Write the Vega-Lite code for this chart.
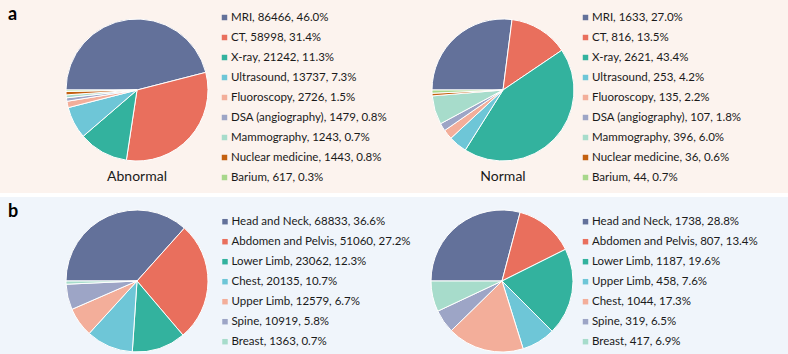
{
  "$schema": "https://vega.github.io/schema/vega-lite/v6.json",
  "background": "white",
  "padding": 0,
  "spacing": 4,
  "config": {"view": {"stroke": null}, "font": "Lato"},
  "datasets": {
    "modality": [
      {"status": "Abnormal", "category": "MRI", "count": 86466, "label": "MRI, 86466, 46.0%"},
      {"status": "Abnormal", "category": "CT", "count": 58998, "label": "CT, 58998, 31.4%"},
      {"status": "Abnormal", "category": "X-ray", "count": 21242, "label": "X-ray, 21242, 11.3%"},
      {"status": "Abnormal", "category": "Ultrasound", "count": 13737, "label": "Ultrasound, 13737, 7.3%"},
      {"status": "Abnormal", "category": "Fluoroscopy", "count": 2726, "label": "Fluoroscopy, 2726, 1.5%"},
      {"status": "Abnormal", "category": "DSA (angiography)", "count": 1479, "label": "DSA (angiography), 1479, 0.8%"},
      {"status": "Abnormal", "category": "Mammography", "count": 1243, "label": "Mammography, 1243, 0.7%"},
      {"status": "Abnormal", "category": "Nuclear medicine", "count": 1443, "label": "Nuclear medicine, 1443, 0.8%"},
      {"status": "Abnormal", "category": "Barium", "count": 617, "label": "Barium, 617, 0.3%"},
      {"status": "Normal", "category": "MRI", "count": 1633, "label": "MRI, 1633, 27.0%"},
      {"status": "Normal", "category": "CT", "count": 816, "label": "CT, 816, 13.5%"},
      {"status": "Normal", "category": "X-ray", "count": 2621, "label": "X-ray, 2621, 43.4%"},
      {"status": "Normal", "category": "Ultrasound", "count": 253, "label": "Ultrasound, 253, 4.2%"},
      {"status": "Normal", "category": "Fluoroscopy", "count": 135, "label": "Fluoroscopy, 135, 2.2%"},
      {"status": "Normal", "category": "DSA (angiography)", "count": 107, "label": "DSA (angiography), 107, 1.8%"},
      {"status": "Normal", "category": "Mammography", "count": 396, "label": "Mammography, 396, 6.0%"},
      {"status": "Normal", "category": "Nuclear medicine", "count": 36, "label": "Nuclear medicine, 36, 0.6%"},
      {"status": "Normal", "category": "Barium", "count": 44, "label": "Barium, 44, 0.7%"}
    ],
    "region": [
      {"status": "Abnormal", "category": "Head and Neck", "count": 68833, "label": "Head and Neck, 68833, 36.6%"},
      {"status": "Abnormal", "category": "Abdomen and Pelvis", "count": 51060, "label": "Abdomen and Pelvis, 51060, 27.2%"},
      {"status": "Abnormal", "category": "Lower Limb", "count": 23062, "label": "Lower Limb, 23062, 12.3%"},
      {"status": "Abnormal", "category": "Chest", "count": 20135, "label": "Chest, 20135, 10.7%"},
      {"status": "Abnormal", "category": "Upper Limb", "count": 12579, "label": "Upper Limb, 12579, 6.7%"},
      {"status": "Abnormal", "category": "Spine", "count": 10919, "label": "Spine, 10919, 5.8%"},
      {"status": "Abnormal", "category": "Breast", "count": 1363, "label": "Breast, 1363, 0.7%"},
      {"status": "Normal", "category": "Head and Neck", "count": 1738, "label": "Head and Neck, 1738, 28.8%"},
      {"status": "Normal", "category": "Abdomen and Pelvis", "count": 807, "label": "Abdomen and Pelvis, 807, 13.4%"},
      {"status": "Normal", "category": "Lower Limb", "count": 1187, "label": "Lower Limb, 1187, 19.6%"},
      {"status": "Normal", "category": "Upper Limb", "count": 458, "label": "Upper Limb, 458, 7.6%"},
      {"status": "Normal", "category": "Chest", "count": 1044, "label": "Chest, 1044, 17.3%"},
      {"status": "Normal", "category": "Spine", "count": 319, "label": "Spine, 319, 6.5%"},
      {"status": "Normal", "category": "Breast", "count": 417, "label": "Breast, 417, 6.9%"}
    ]
  },
  "vconcat": [
    {
      "width": 788,
      "height": 193,
      "view": {"fill": "#FCF3EE", "stroke": null},
      "title": {"text": "a", "anchor": "start", "frame": "group", "offset": -24, "dx": 8, "fontSize": 18, "fontWeight": "bold", "font": "Lato", "color": "#000000"},
      "data": {"name": "modality"},
      "transform": [
        {"window": [{"op": "row_number", "as": "idx"}], "groupby": ["status"]},
        {"stack": "count", "groupby": ["status"], "offset": "normalize", "sort": [{"field": "idx", "order": "ascending"}], "as": ["t0", "t1"]}
      ],
      "layer": [
        {
          "layer": [
            {
              "mark": {"type": "arc", "outerRadius": 71, "stroke": "white", "strokeWidth": 1},
              "encoding": {
                "x": {"field": "status", "type": "nominal", "scale": {"type": "point", "padding": 0, "domain": ["Abnormal", "Normal"], "range": [137, 503]}, "axis": null},
                "y": {"field": "status", "type": "nominal", "scale": {"type": "point", "padding": 0, "domain": ["Abnormal", "Normal"], "range": [90, 90]}, "axis": null},
                "theta": {"field": "t0", "type": "quantitative", "scale": {"domain": [0, 1], "range": [-1.5707963, 4.712389]}},
                "theta2": {"field": "t1"},
                "color": {"field": "idx", "type": "ordinal", "scale": {"domain": [1, 2, 3, 4, 5, 6, 7, 8, 9], "range": ["#63719A", "#E96F5D", "#33B29E", "#6EC6D7", "#F3AE9A", "#9DA5C6", "#A7DCCB", "#C4600F", "#A8D78C"]}, "legend": null}
              }
            },
            {
              "transform": [{"filter": "datum.idx == 1"}],
              "mark": {"type": "text", "dy": 87, "fontSize": 14, "font": "Lato", "color": "#1a1a1a"},
              "encoding": {
                "x": {"field": "status", "type": "nominal", "axis": null},
                "y": {"field": "status", "type": "nominal", "axis": null},
                "text": {"field": "status"}
              }
            }
          ]
        },
        {
          "layer": [
            {
              "mark": {"type": "square", "size": 30, "filled": true, "opacity": 1},
              "encoding": {
                "x": {"field": "status", "type": "nominal", "scale": {"type": "point", "padding": 0, "domain": ["Abnormal", "Normal"], "range": [224.5, 585.5]}, "axis": null},
                "y": {"field": "idx", "type": "ordinal", "scale": {"type": "point", "padding": 0, "domain": [1, 2, 3, 4, 5, 6, 7, 8, 9], "range": [17.5, 177.5]}, "axis": null},
                "color": {"field": "idx", "type": "ordinal", "legend": null}
              }
            },
            {
              "mark": {"type": "text", "align": "left", "baseline": "middle", "dx": 6.5, "fontSize": 11.5, "font": "Lato", "color": "#1a1a1a"},
              "encoding": {
                "x": {"field": "status", "type": "nominal", "axis": null},
                "y": {"field": "idx", "type": "ordinal", "axis": null},
                "text": {"field": "label"}
              }
            }
          ]
        }
      ],
      "resolve": {"scale": {"x": "independent", "y": "independent"}}
    },
    {
      "width": 788,
      "height": 157,
      "view": {"fill": "#F0F5FB", "stroke": null},
      "title": {"text": "b", "anchor": "start", "frame": "group", "offset": -24, "dx": 8, "fontSize": 18, "fontWeight": "bold", "font": "Lato", "color": "#000000"},
      "data": {"name": "region"},
      "transform": [
        {"window": [{"op": "row_number", "as": "idx"}], "groupby": ["status"]},
        {"stack": "count", "groupby": ["status"], "offset": "normalize", "sort": [{"field": "idx", "order": "ascending"}], "as": ["t0", "t1"]}
      ],
      "layer": [
        {
          "mark": {"type": "arc", "outerRadius": 71, "stroke": "white", "strokeWidth": 1},
          "encoding": {
            "x": {"field": "status", "type": "nominal", "scale": {"type": "point", "padding": 0, "domain": ["Abnormal", "Normal"], "range": [137, 502]}, "axis": null},
            "y": {"field": "status", "type": "nominal", "scale": {"type": "point", "padding": 0, "domain": ["Abnormal", "Normal"], "range": [84, 84]}, "axis": null},
            "theta": {"field": "t0", "type": "quantitative", "scale": {"domain": [0, 1], "range": [-1.5707963, 4.712389]}},
            "theta2": {"field": "t1"},
            "color": {"field": "idx", "type": "ordinal", "scale": {"domain": [1, 2, 3, 4, 5, 6, 7], "range": ["#63719A", "#E96F5D", "#33B29E", "#6EC6D7", "#F3AE9A", "#9DA5C6", "#A7DCCB"]}, "legend": null}
          }
        },
        {
          "layer": [
            {
              "mark": {"type": "square", "size": 30, "filled": true, "opacity": 1},
              "encoding": {
                "x": {"field": "status", "type": "nominal", "scale": {"type": "point", "padding": 0, "domain": ["Abnormal", "Normal"], "range": [225, 585.5]}, "axis": null},
                "y": {"field": "idx", "type": "ordinal", "scale": {"type": "point", "padding": 0, "domain": [1, 2, 3, 4, 5, 6, 7], "range": [24.7, 144.7]}, "axis": null},
                "color": {"field": "idx", "type": "ordinal", "legend": null}
              }
            },
            {
              "mark": {"type": "text", "align": "left", "baseline": "middle", "dx": 6.5, "fontSize": 11.5, "font": "Lato", "color": "#1a1a1a"},
              "encoding": {
                "x": {"field": "status", "type": "nominal", "axis": null},
                "y": {"field": "idx", "type": "ordinal", "axis": null},
                "text": {"field": "label"}
              }
            }
          ]
        }
      ],
      "resolve": {"scale": {"x": "independent", "y": "independent"}}
    }
  ]
}
